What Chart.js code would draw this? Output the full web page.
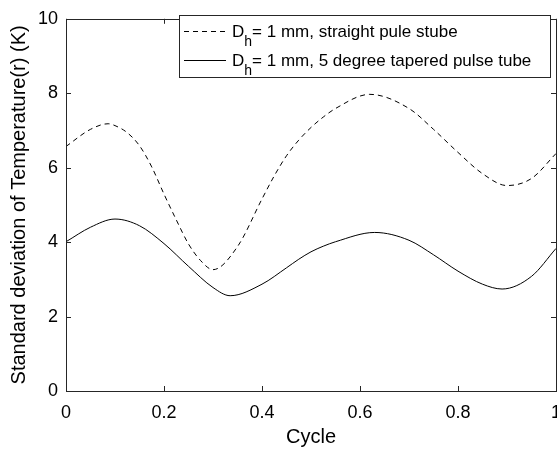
<!DOCTYPE html>
<html>
<head>
<meta charset="utf-8">
<script src="https://cdn.jsdelivr.net/npm/chart.js@4/dist/chart.umd.min.js"></script>
<style>
  html, body { margin: 0; padding: 0; background: #fff; overflow: hidden; }
  #wrap { width: 557px; height: 454px; overflow: hidden; position: relative; }
  #box { width: 580px; height: 454px; }
</style>
</head>
<body>
<div id="wrap"><div id="box"><canvas id="chart"></canvas></div></div>
<script>
// datos
const straightX = [0, 0.05, 0.086, 0.10, 0.125, 0.15, 0.175, 0.20, 0.225, 0.25, 0.275, 0.30, 0.35, 0.40, 0.425, 0.45, 0.475, 0.50, 0.525, 0.55, 0.62, 0.70, 0.75, 0.80, 0.85, 0.90, 0.95, 1.0];
const straightY = [6.57, 7.03, 7.18, 7.13, 6.94, 6.59, 6.02, 5.29, 4.60, 3.95, 3.50, 3.26, 3.88, 5.16, 5.78, 6.32, 6.74, 7.08, 7.36, 7.59, 7.97, 7.59, 7.03, 6.41, 5.84, 5.52, 5.71, 6.38];

const taperedX = [0, 0.05, 0.10, 0.15, 0.20, 0.25, 0.30, 0.335, 0.40, 0.45, 0.475, 0.50, 0.525, 0.55, 0.63, 0.70, 0.75, 0.80, 0.85, 0.89, 0.95, 1.0];
const taperedY = [4.01, 4.40, 4.62, 4.44, 3.96, 3.35, 2.78, 2.56, 2.87, 3.31, 3.54, 3.74, 3.89, 4.01, 4.26, 4.05, 3.66, 3.22, 2.87, 2.74, 3.08, 3.83];

const legendTexts = [', straight pule stube', ', 5 degree tapered pulse tube'];
const xTicks = [0, 0.2, 0.4, 0.6, 0.8, 1];
const yTicks = [0, 2, 4, 6, 8, 10];

const FONT = 'Arial, "Liberation Sans", sans-serif';
Chart.defaults.font.family = FONT;
Chart.defaults.color = '#000';

const toPoints = (xs, ys) => xs.map((x, i) => ({ x: x, y: ys[i] }));

// caja de ejes estilo MATLAB con ticks hacia adentro + leyenda
const matlabBox = {
    id: 'matlabBox',
    afterDatasetsDraw(chart) {
        const { ctx, chartArea: a, scales } = chart;
        ctx.save();
        ctx.strokeStyle = '#262626';
        ctx.lineWidth = 1;
        ctx.strokeRect(Math.round(a.left) + 0.5, Math.round(a.top) + 0.5, Math.round(a.right - a.left), Math.round(a.bottom - a.top));
        const len = 5;
        ctx.beginPath();
        xTicks.forEach(v => {
            const px = Math.round(scales.x.getPixelForValue(v)) + 0.5;
            ctx.moveTo(px, a.bottom); ctx.lineTo(px, a.bottom - len);
            ctx.moveTo(px, a.top); ctx.lineTo(px, a.top + len);
        });
        yTicks.forEach(v => {
            const py = Math.round(scales.y.getPixelForValue(v)) + 0.5;
            ctx.moveTo(a.left, py); ctx.lineTo(a.left + len, py);
            ctx.moveTo(a.right, py); ctx.lineTo(a.right - len, py);
        });
        ctx.stroke();

        // leyenda
        const lx = 179.5, ly = 15.5, lw = 371, lh = 62;
        ctx.fillStyle = '#fff';
        ctx.fillRect(lx, ly, lw, lh);
        ctx.strokeRect(lx, ly, lw, lh);
        const rows = [31, 60];
        const bases = [37, 66];
        chart.data.datasets.forEach((ds, i) => {
            const y = rows[i] + 0.5;
            ctx.strokeStyle = '#000';
            ctx.setLineDash(ds.borderDash || []);
            ctx.beginPath();
            ctx.moveTo(184, y); ctx.lineTo(226, y);
            ctx.stroke();
            ctx.setLineDash([]);
            ctx.fillStyle = '#000';
            ctx.textBaseline = 'alphabetic';
            ctx.font = '17px ' + FONT;
            let x = 232;
            const base = bases[i];
            ctx.fillText('D', x, base);
            x += ctx.measureText('D').width;
            ctx.font = '14px ' + FONT;
            ctx.fillText('h', x, base + 9);
            x += ctx.measureText('h').width;
            ctx.font = '17px ' + FONT;
            ctx.fillText('= 1 mm' + legendTexts[i], x, base);
        });
        ctx.restore();
    }
};

document.addEventListener('DOMContentLoaded', () => {
    const ctx = document.getElementById('chart').getContext('2d');
    new Chart(ctx, {
        type: 'line',
        data: {
            datasets: [
                {
                    label: 'Dh= 1 mm' + legendTexts[0],
                    data: toPoints(straightX, straightY),
                    borderColor: '#000',
                    borderWidth: 1,
                    borderDash: [5, 4],
                    pointRadius: 0,
                    fill: false,
                    cubicInterpolationMode: 'monotone'
                },
                {
                    label: 'Dh= 1 mm' + legendTexts[1],
                    data: toPoints(taperedX, taperedY),
                    borderColor: '#000',
                    borderWidth: 1,
                    pointRadius: 0,
                    fill: false,
                    cubicInterpolationMode: 'monotone'
                }
            ]
        },
        options: {
            responsive: true,
            maintainAspectRatio: false,
            animation: false,
            layout: { padding: { left: 0, right: 24, top: 10, bottom: 0 } },
            plugins: {
                legend: { display: false },
                tooltip: { enabled: false }
            },
            scales: {
                x: {
                    type: 'linear',
                    min: 0, max: 1,
                    afterBuildTicks: s => { s.ticks = xTicks.map(v => ({ value: v })); },
                    afterFit: s => { s.height = 63; },
                    grid: { display: false, drawTicks: false },
                    border: { display: false },
                    ticks: { font: { size: 18 }, padding: 11, maxRotation: 0, callback: v => String(v) },
                    title: { display: true, text: 'Cycle', font: { size: 20 }, padding: { top: 0, bottom: 5 } }
                },
                y: {
                    min: 0, max: 10,
                    afterBuildTicks: s => { s.ticks = yTicks.map(v => ({ value: v })); },
                    afterFit: s => { s.width = 66; },
                    grid: { display: false, drawTicks: false },
                    border: { display: false },
                    ticks: { font: { size: 18 }, padding: 8 },
                    title: { display: true, text: 'Standard deviation of Temperature(r) (K)', font: { size: 20 }, padding: { top: 7, bottom: 0 } }
                }
            }
        },
        plugins: [matlabBox]
    });
});
</script>
</body>
</html>
